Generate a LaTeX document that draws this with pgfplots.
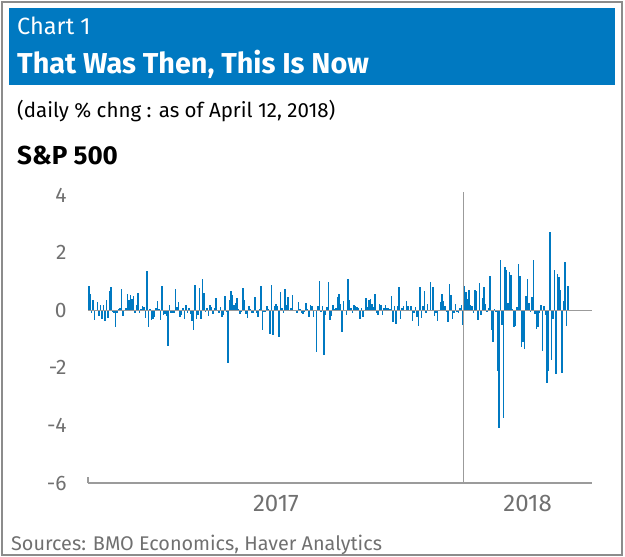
\documentclass[border=0pt]{standalone}
\usepackage{fontspec}
\setmainfont{Fira Sans}
\usepackage{pgfplots}
\usepackage{pgfplotstable}
\pgfplotsset{compat=1.18}
\definecolor{bmoblue}{RGB}{0,121,193}
\definecolor{txtgray}{RGB}{112,112,112}
\definecolor{linegray}{RGB}{155,155,155}
\definecolor{framegray}{RGB}{140,140,140}

% S&P 500 daily % change, 2017 (251 trading days)
\pgfplotstableread[row sep=\\]{v\\
0.85\\ 0.57\\ -0.08\\ 0.35\\ -0.35\\ 0.00\\ 0.28\\ -0.21\\ 0.18\\ -0.30\\ 0.18\\ -0.36\\ 0.34\\ -0.27\\ 0.66\\ 0.80\\ -0.07\\ -0.09\\ -0.60\\ -0.09\\
0.03\\ 0.06\\ 0.73\\ -0.21\\ 0.02\\ 0.07\\ 0.58\\ 0.36\\ 0.52\\ 0.40\\ 0.50\\ -0.09\\ 0.17\\ 0.60\\ -0.11\\ 0.04\\ 0.15\\ 0.10\\ -0.26\\
1.37\\ -0.59\\ 0.05\\ -0.33\\ -0.29\\ -0.23\\ 0.08\\ 0.33\\ 0.04\\ -0.34\\ 0.84\\ -0.16\\ -0.13\\ -0.20\\ -1.24\\ 0.19\\ -0.11\\ -0.08\\ -0.10\\ 0.73\\ 0.11\\ 0.29\\ -0.23\\
-0.16\\ 0.06\\ -0.31\\ 0.19\\ -0.08\\ 0.07\\ -0.14\\ -0.38\\ -0.68\\ 0.86\\ -0.29\\ -0.17\\ 0.76\\ -0.30\\ 1.08\\ 0.61\\ -0.05\\ 0.06\\ -0.19\\
0.17\\ 0.12\\ -0.13\\ 0.06\\ 0.41\\ 0.00\\ -0.10\\ 0.11\\ -0.22\\ -0.15\\ 0.48\\ -0.07\\ -1.82\\ 0.37\\ 0.68\\ 0.52\\ 0.18\\ 0.25\\ 0.44\\ 0.03\\ -0.12\\ -0.05\\
0.76\\ 0.37\\ -0.12\\ -0.28\\ 0.16\\ 0.03\\ -0.08\\ -0.10\\ 0.45\\ -0.10\\ -0.22\\ 0.03\\ 0.83\\ -0.67\\ -0.06\\ -0.05\\ 0.16\\ 0.03\\ -0.81\\ 0.88\\ -0.86\\ 0.15\\
0.23\\ 0.15\\ -0.94\\ 0.64\\ 0.09\\ -0.08\\ 0.73\\ 0.19\\ 0.47\\ -0.01\\ 0.06\\ 0.54\\ -0.02\\ -0.04\\ -0.11\\ 0.29\\ 0.03\\ -0.10\\ -0.13\\ -0.07\\
0.24\\ 0.05\\ -0.22\\ 0.19\\ 0.16\\ -0.24\\ -0.04\\ -1.45\\ 0.13\\ 1.00\\ -0.05\\ 0.14\\ -1.54\\ -0.18\\ 0.12\\ 0.99\\ -0.35\\ -0.21\\ 0.17\\ 0.05\\ 0.08\\ 0.46\\ 0.57\\
0.20\\ -0.76\\ 0.31\\ -0.02\\ -0.15\\ 1.08\\ 0.34\\ 0.08\\ -0.11\\ 0.18\\ 0.15\\ 0.11\\ 0.06\\ -0.30\\ 0.06\\ -0.22\\ 0.01\\ 0.41\\ 0.12\\ 0.37\\
0.39\\ 0.22\\ 0.12\\ 0.56\\ -0.11\\ -0.18\\ 0.23\\ 0.18\\ -0.17\\ 0.09\\ 0.18\\ 0.07\\ 0.08\\ 0.03\\ 0.51\\ -0.40\\ 0.16\\ -0.47\\ 0.13\\ 0.81\\ -0.32\\ 0.09\\
0.16\\ 0.02\\ 0.31\\ 0.13\\ -0.02\\ 0.14\\ -0.38\\ -0.09\\ 0.10\\ -0.23\\ -0.55\\ 0.82\\ -0.26\\ 0.13\\ 0.65\\ -0.08\\ 0.21\\ -0.04\\ 0.98\\ -0.04\\ 0.82\\
-0.20\\ -0.11\\ -0.37\\ -0.01\\ 0.29\\ 0.55\\ 0.32\\ 0.15\\ -0.05\\ -0.41\\ 0.90\\ 0.54\\ -0.32\\ -0.08\\ 0.20\\ -0.05\\ -0.11\\ 0.08\\ 0.18\\ -0.52\\
}\spxA

% 2018 to April 12 (70 trading days)
\pgfplotstableread[row sep=\\]{v\\
0.83\\ 0.64\\ 0.40\\ 0.70\\ 0.17\\ 0.13\\ -0.11\\ 0.70\\ 0.67\\ -0.35\\ 0.94\\ -0.16\\ 0.44\\ 0.81\\ 0.22\\ -0.06\\ 0.06\\ 1.18\\ -0.67\\ -1.09\\ 0.05\\
-0.06\\ -2.12\\ -4.10\\ 1.74\\ -0.50\\ -3.75\\ 1.49\\ 1.39\\ 0.26\\ 1.34\\ 1.21\\ 0.04\\ -0.58\\ -0.55\\ 0.10\\ 1.60\\ 1.18\\ -1.27\\ -1.11\\
-1.33\\ 0.51\\ 1.10\\ 0.26\\ -0.05\\ 0.45\\ 1.74\\ -0.13\\ -0.64\\ -0.57\\ -0.08\\ 0.17\\ -1.42\\ 0.15\\ -0.18\\ -2.52\\ -2.10\\ 2.72\\ -1.73\\ -0.29\\ 1.38\\
-2.23\\ 1.26\\ 1.16\\ 0.69\\ -2.19\\ 0.33\\ 1.67\\ -0.55\\ 0.83\\
}\spxB

\begin{document}
\begin{tikzpicture}[x=1bp,y=1bp]
\path[use as bounding box] (0,0) rectangle (625,-557);
\draw[line width=2bp, framegray] (2,-2) rectangle (622,-555);
\fill[bmoblue] (9,-8) rectangle (615,-85);
\node[anchor=base west, inner sep=0, text=white, font=\fontsize{23.5bp}{28bp}\selectfont] at (17,-35) {Chart 1};
\node[anchor=base west, inner sep=0, text=white, font=\fontsize{28.8bp}{34bp}\selectfont\bfseries] at (17,-74) {That Was Then, This Is Now};
\node[anchor=base west, inner sep=0, text=black, font=\fontsize{20.5bp}{25bp}\selectfont] at (17,-118) {(daily \% chng : as of April 12, 2018)};
\node[anchor=base west, inner sep=0, text=black, font=\fontsize{26bp}{30bp}\selectfont\bfseries] at (17,-165) {S\&P 500};
\node[anchor=base west, inner sep=0, text=txtgray, font=\fontsize{19.8bp}{24bp}\selectfont] at (11,-550) {Sources: BMO Economics, Haver Analytics};

\begin{axis}[
  at={(88bp,-483bp)}, anchor=south west,
  scale only axis, width=504bp, height=288bp,
  xmin=-0.5, xmax=336, ymin=-6, ymax=4,
  ytick={-6,-4,-2,0,2,4},
  xtick={125,293}, xticklabels={2017,2018},
  major tick length=0pt,
  separate axis lines,
  axis x line*=bottom,
  axis y line*=left,
  x axis line style={linegray, line width=1.2bp, -},
  y axis line style={draw=none},
  /pgf/number format/assume math mode=true,
  yticklabel style={text=txtgray, font=\fontsize{21bp}{25bp}\selectfont, xshift=-18bp},
  xticklabel style={text=txtgray, font=\fontsize{24bp}{28bp}\selectfont, yshift=-9bp},
  clip=false,
]
\addplot[ycomb, bmoblue, line width=1.5bp, mark=none] table[x expr=\coordindex, y=v] {\spxA};
\addplot[ycomb, bmoblue, line width=1.5bp, mark=none] table[x expr=\coordindex+251, y=v] {\spxB};
\draw[linegray, line width=1.2bp] (axis cs:-0.5,0) -- (axis cs:336,0);
\draw[linegray, line width=1bp] (axis cs:250.5,-6) -- (axis cs:250.5,4.1);
\draw[linegray, line width=1.2bp] (rel axis cs:0,0) -- ([yshift=6bp]rel axis cs:0,0);
\end{axis}
\end{tikzpicture}
\end{document}
